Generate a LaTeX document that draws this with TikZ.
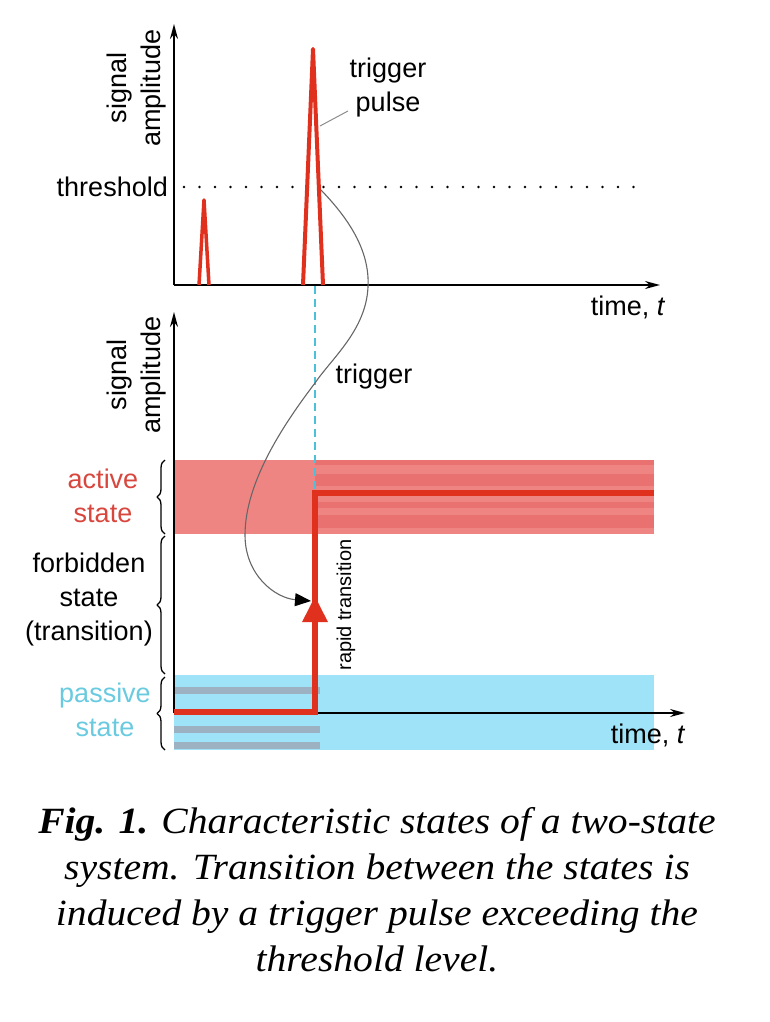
\documentclass[tikz,border=0pt]{standalone}
\usepackage{fontspec}
\setmainfont{Liberation Serif}
\setsansfont{Liberation Sans}
\newfontfamily\capfont[FakeStretch=1.07]{Liberation Serif}
\usetikzlibrary{arrows.meta,decorations.pathreplacing}

\definecolor{pulsered}{HTML}{E0301E}
\definecolor{activefill}{HTML}{EF8583}
\definecolor{activestripe}{HTML}{E9716F}
\definecolor{passivefill}{HTML}{9EE3F8}
\definecolor{passivestripe}{HTML}{9CB2C3}
\definecolor{activetext}{HTML}{D8473E}
\definecolor{passivetext}{HTML}{6ACAE0}
\definecolor{dashcyan}{HTML}{4CC0D8}

\begin{document}
\begin{tikzpicture}[x=1pt, y=-1pt, line join=round,
    axis/.style={line width=1.6pt, -{Stealth[length=15pt,width=8pt]}},
    pulse/.style={draw=pulsered, line width=3.5pt},
    thrline/.style={line width=2.6pt, line cap=round, dash pattern=on 0pt off 15.5pt},
    leader/.style={draw=black!45, line width=1pt},
    cyandash/.style={draw=dashcyan, line width=1.5pt, dash pattern=on 8pt off 5pt},
    trig/.style={draw=black!60, line width=1.1pt, -{Triangle[length=16pt,width=13pt,color=black]}},
    stepline/.style={draw=pulsered, line width=6pt, line join=miter},
    bracebar/.style={decorate, decoration={brace, amplitude=8pt}, line width=1.3pt},
    lbl/.style={inner sep=0pt, align=center, font=\sffamily\fontsize{27}{34}\selectfont},
    small/.style={inner sep=0pt, font=\sffamily\fontsize{20}{24}\selectfont},
    caption/.style={inner sep=0pt, align=center, font=\capfont\itshape\fontsize{37}{46}\selectfont}]

  %% ════ 状态带 ════
  \fill[activefill] (174,460) rectangle (654,534);
  \foreach \y/\h in {460/5,474/12,502/6,515/13}
    \fill[activestripe] (315,\y) rectangle (654,\y+\h);
  \fill[passivefill] (174,675) rectangle (654,750);
  \foreach \y in {687,726,742}
    \fill[passivestripe] (174,\y) rectangle (320,\y+7);

  %% ════ 坐标轴 ════
  \coordinate (topO) at (174,285);
  \coordinate (topY) at (174,24);
  \coordinate (topX) at (660,285);
  \coordinate (botO) at (174,713);
  \coordinate (botY) at (174,312);
  \coordinate (botX) at (685,713);
  \draw[axis] (topO) -- (topY);
  \draw[axis] (topO) -- (topX);
  \draw[axis] (botO) -- (botY);
  \draw[axis] (botO) -- (botX);

  %% ════ 阈值 + 脉冲 ════
  \coordinate (thrA) at (184,187);
  \coordinate (thrB) at (636,187);
  \draw[thrline] (thrA) -- (thrB);
  \draw[pulse] (199,285) -- (204,200) -- (209,285);
  \draw[pulse, line width=4pt] (303,285) -- (313,49) -- (323,285);

  % 引线：trigger pulse
  \coordinate (tpfoot) at (320,126);
  \coordinate (tphead) at (348,111);
  \draw[leader] (tpfoot) -- (tphead);

  % 青色虚线：触发时刻
  \coordinate (dashTop) at (315,286);
  \coordinate (dashBot) at (315,493);
  \draw[cyandash] (dashTop) -- (dashBot);

  %% ════ 状态跃迁折线 ════
  \coordinate (s0) at (174,712);
  \coordinate (s1) at (315,712);
  \coordinate (s2) at (315,493);
  \coordinate (s3) at (654,493);
  \coordinate (rtip) at (315,596);
  \draw[stepline] (s0) -- (s1) -- (s2) -- (s3);
  \draw[stepline, -{Triangle[length=26pt,width=24pt]}] (s1) -- (rtip);

  % 触发曲线
  \coordinate (cross) at (321,190);
  \coordinate (hit) at (311,601);
  \draw[trig] (cross) .. controls (348,218) and (370,250) .. (368,287)
    .. controls (366,330) and (332,358) .. (315,383)
    .. controls (287,420) and (245,480) .. (245,535)
    .. controls (245,575) and (275,598) .. (hit);

  %% ════ 括号 ════
  \draw[bracebar] (165,534) -- (165,460);
  \draw[bracebar] (165,674) -- (165,536);
  \draw[bracebar] (165,750) -- (165,677);

  %% ════ 标签 ════
  \node[lbl, anchor=east] (thrlabel) at (168,187) {threshold};
  \node[lbl, rotate=90] (amptop) at (137,88) {signal\\amplitude};
  \node[lbl, rotate=90] (ampbot) at (137,375) {signal\\amplitude};
  \node[lbl] (tplabel) at (388,88) {trigger\\pulse};
  \node[lbl] (timetop) at (628,307) {time, \textit{t}};
  \node[lbl] (timebot) at (648,735) {time, \textit{t}};
  \node[lbl] (triglabel) at (374,377) {trigger};
  \node[lbl, text=activetext] (activelabel) at (103,496) {active\\state};
  \node[lbl] (forblabel) at (89,600) {forbidden\\state\\(transition)};
  \node[lbl, text=passivetext] (passlabel) at (105,710) {passive\\state};
  \node[small, rotate=90] (rapidlabel) at (346,605) {rapid transition};

  \node[caption] (cap) at (377,890) {\textbf{Fig. 1.} Characteristic states of a two-state\\
    system. Transition between the states is\\
    induced by a trigger pulse exceeding the\\
    threshold level.};

  % 钉死画布
  \pgfresetboundingbox
  \path[use as bounding box] (0,0) rectangle (770,1022);
\end{tikzpicture}
\end{document}
